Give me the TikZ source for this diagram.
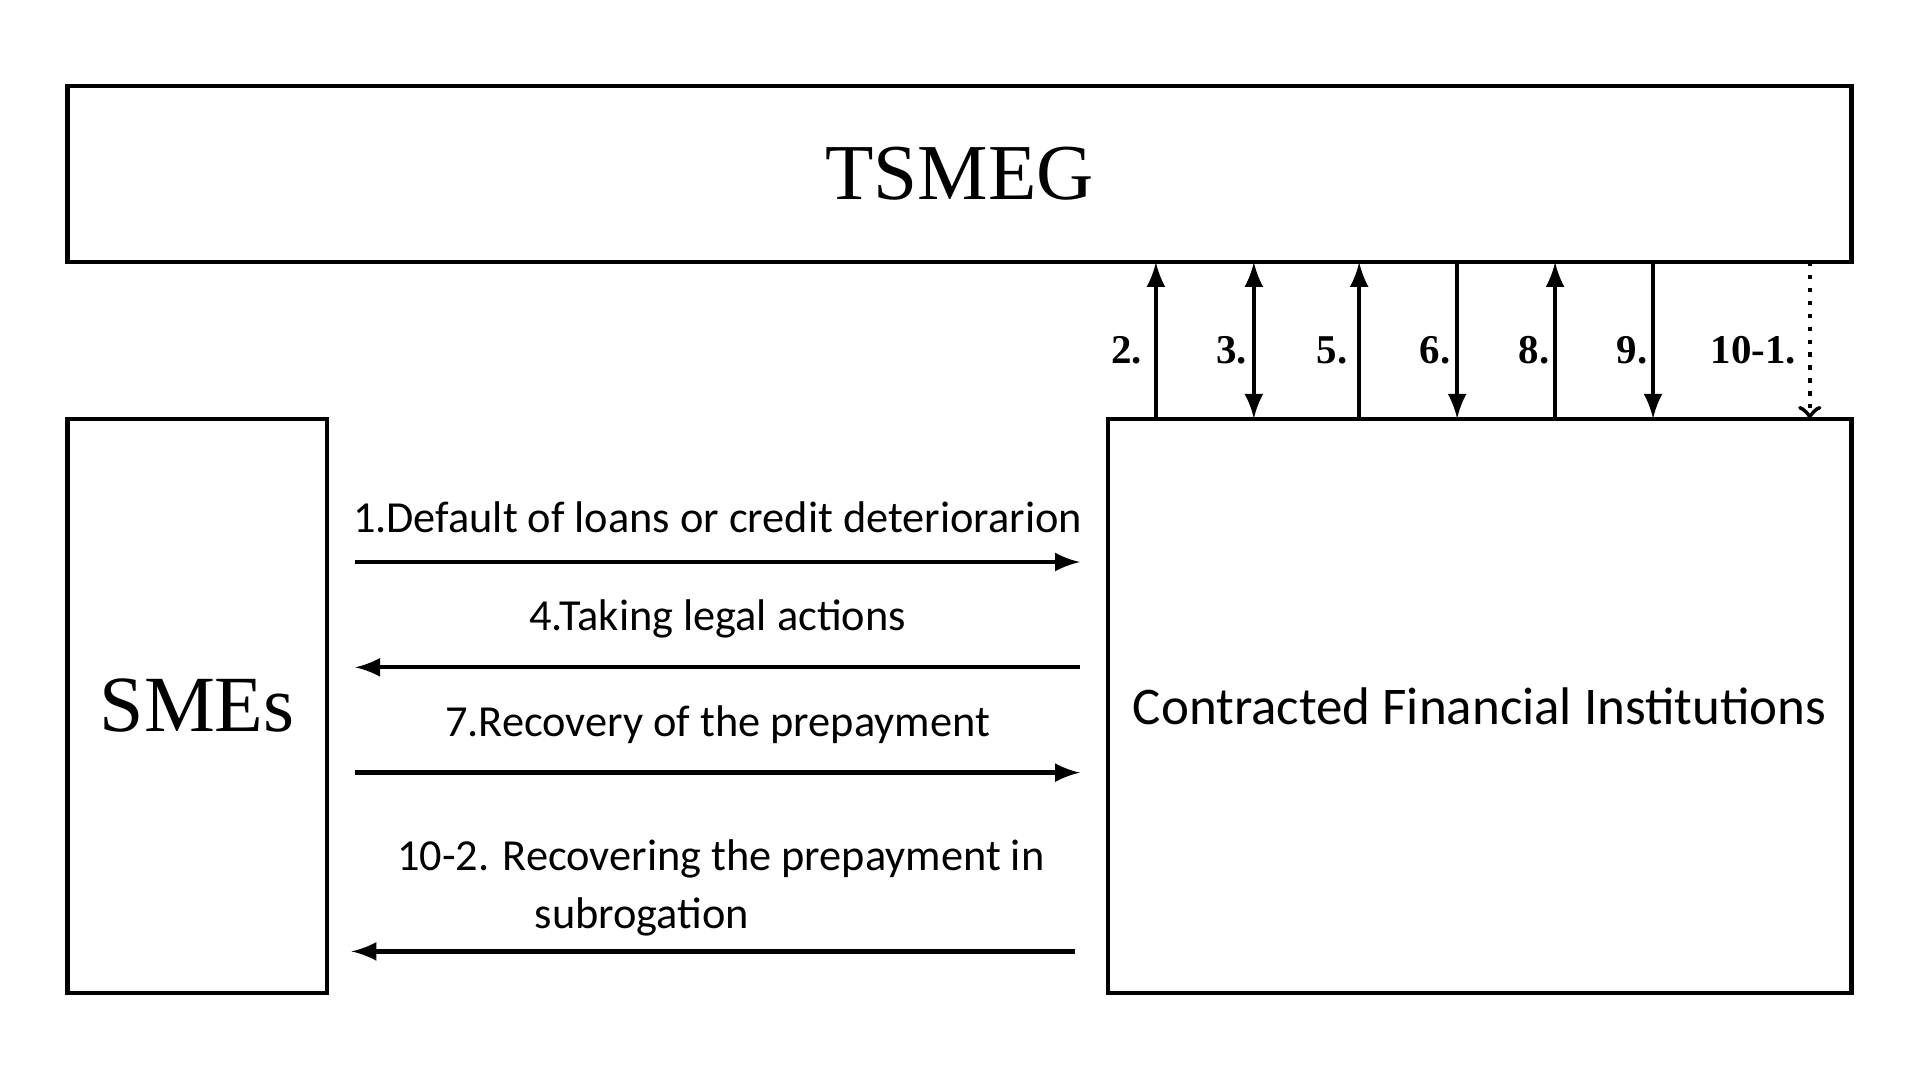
\documentclass[tikz,border=0pt]{standalone}
\usepackage{fontspec}
\setmainfont{Liberation Serif}
\newfontfamily\labelfont{Carlito}
\usetikzlibrary{positioning, arrows}
\tikzset{
  boxshape/.style={draw, line width=1pt},
  flow/.style={line width=1pt, -latex},
  numlabel/.style={font=\bfseries\fontsize{9.5}{11}\selectfont},
  arrowtext/.style={font=\labelfont\fontsize{10.3}{13.5}\selectfont}
}
\begin{document}
\begin{tikzpicture}[x=0.01cm, y=-0.01cm]
  \useasboundingbox (0,0) rectangle (1568,880);
  % boxes
  \draw[boxshape] (55,70) rectangle node[font=\fontsize{18.4}{22}\selectfont]{TSMEG} (1512,214);
  \draw[boxshape] (55,342) rectangle node[font=\fontsize{18.5}{22}\selectfont]{SMEs} (267,811);
  \draw[boxshape] (905,342) rectangle node[font=\labelfont\fontsize{12.3}{15}\selectfont]{Contracted Financial Institutions} (1512,811);
  % vertical arrows
  \draw[flow] (944,342) -- (944,214);
  \draw[flow, latex-latex] (1024,342) -- (1024,214);
  \draw[flow] (1110,342) -- (1110,214);
  \draw[flow] (1190,214) -- (1190,342);
  \draw[flow] (1270,342) -- (1270,214);
  \draw[flow] (1350,214) -- (1350,342);
  \draw[flow, dotted, -to] (1478,214) -- (1478,342);
  \foreach \x/\t in {920/2., 1006/3., 1088/5., 1172/6., 1253/8., 1333/9., 1432/10-1.}
    \node[numlabel] at (\x,286) {\t};
  % horizontal arrows
  \draw[flow] (290,459) -- node[arrowtext, above=3pt]{1.Default of loans or credit deteriorarion} (882,459);
  \draw[flow] (882,545) -- node[arrowtext, above=3pt]{4.Taking legal actions} (290,545);
  \draw[flow] (290,631) -- node[arrowtext, above=3pt]{7.Recovery of the prepayment} (882,631);
  \draw[flow] (878,777) -- (287,777);
  \node[arrowtext, align=left, anchor=west] at (312,725) {10-2. Recovering the prepayment in\\\hspace*{3.1em}subrogation};
\end{tikzpicture}
\end{document}
